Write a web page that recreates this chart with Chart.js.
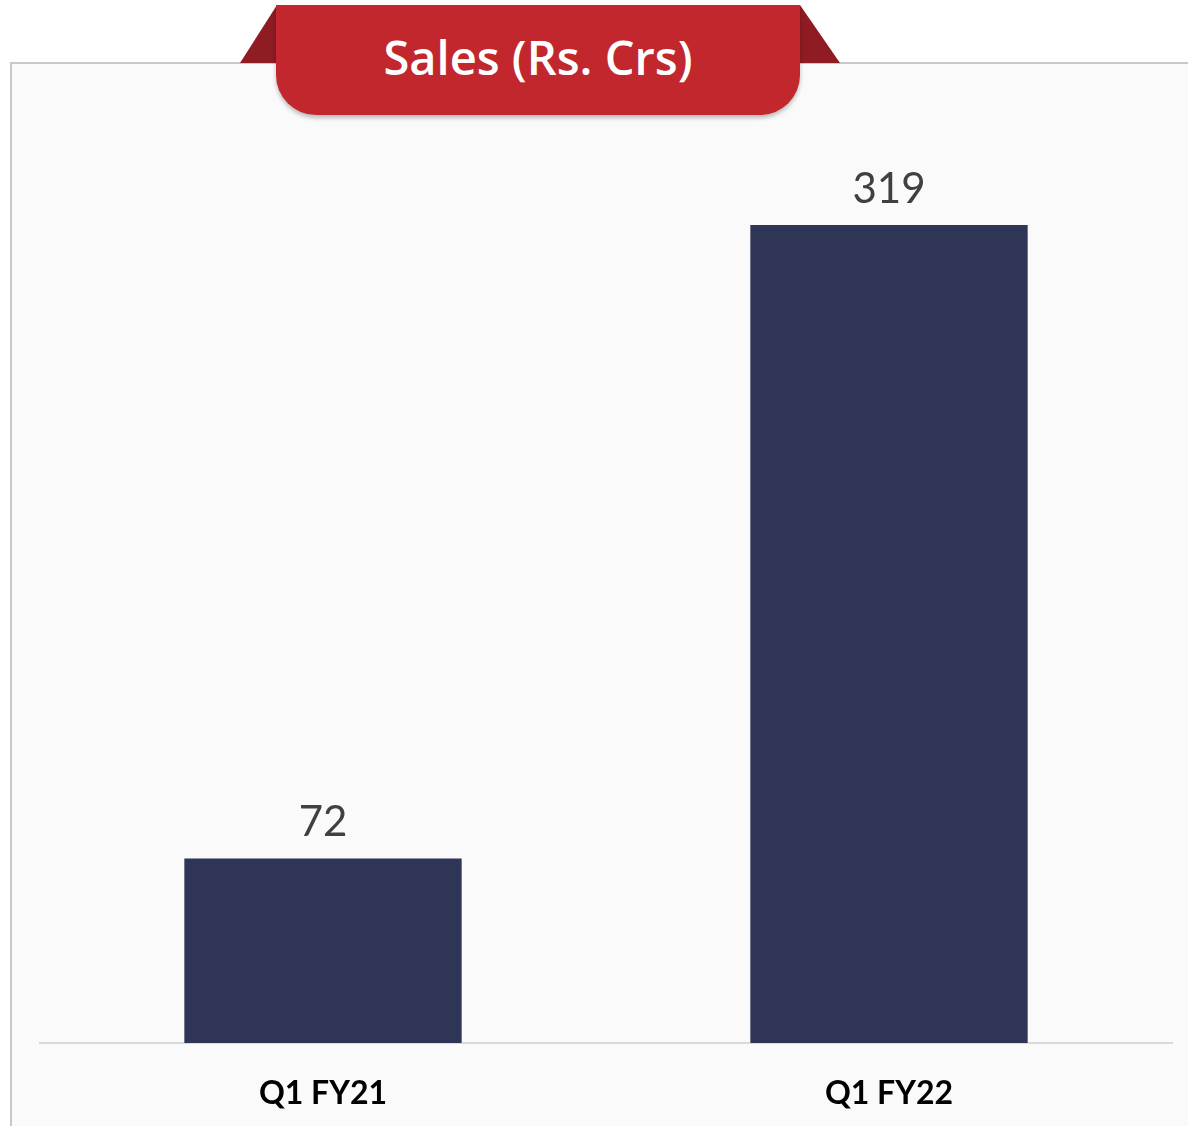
<!DOCTYPE html>
<html>
<head>
<meta charset="utf-8">
<script src="https://cdn.jsdelivr.net/npm/chart.js@4"></script>
<style>
  html, body { margin: 0; padding: 0; background: #ffffff; }
  #wrap { position: relative; width: 1188px; height: 1126px; overflow: hidden; }
  #panel { position: absolute; left: 10px; top: 62px; width: 1200px; height: 1100px;
           background: #fafafa; border-left: 2px solid #c8c8c8; border-top: 2px solid #c8c8c8; }
  #triL { position: absolute; left: 240px; top: 5px; width: 0; height: 0;
          border-right: 37px solid #8e1c22; border-top: 58px solid transparent; }
  #triR { position: absolute; left: 800px; top: 5px; width: 0; height: 0;
          border-left: 40px solid #8e1c22; border-top: 58px solid transparent; }
  #banner { position: absolute; left: 276px; top: 5px; width: 524px; height: 110px;
            background: #c1272d; border-radius: 0 0 40px 40px;
            box-shadow: 0 3px 4px rgba(0,0,0,0.25);
            color: #ffffff; font-family: "Open Sans", sans-serif; font-weight: 600; font-size: 47px;
            text-align: center; line-height: 104px; }
  #c { position: absolute; left: 0; top: 0; }
</style>
</head>
<body>
<div id="wrap">
  <div id="panel"></div>
  <div id="triL"></div>
  <div id="triR"></div>
  <div id="banner">Sales (Rs. Crs)</div>
  <canvas id="c" width="1188" height="1126"></canvas>
</div>
<script>
const categories = ["Q1 FY21", "Q1 FY22"];
const salesValues = [72, 319];

const valueLabels = {
  id: 'valueLabels',
  afterDatasetsDraw(chart) {
    const ctx = chart.ctx;
    const meta = chart.getDatasetMeta(0);
    ctx.save();
    ctx.fillStyle = '#404040';
    ctx.font = '42px Lato, sans-serif';
    ctx.textAlign = 'center';
    ctx.textBaseline = 'middle';
    meta.data.forEach((bar, i) => {
      ctx.fillText(String(chart.data.datasets[0].data[i]), bar.x, bar.y - 36);
    });
    ctx.restore();
  }
};

new Chart(document.getElementById('c'), {
  type: 'bar',
  data: {
    labels: categories,
    datasets: [{
      data: salesValues,
      backgroundColor: '#2f3557',
      barPercentage: 0.49,
      categoryPercentage: 1.0
    }]
  },
  options: {
    responsive: false,
    animation: false,
    layout: { padding: { left: 40, right: 16, top: 120, bottom: 13 } },
    plugins: { legend: { display: false }, tooltip: { enabled: false }, title: { display: false } },
    scales: {
      x: {
        grid: { display: false, drawTicks: false },
        border: { display: true, color: '#d9d9d9', width: 2 },
        ticks: { color: '#000000', padding: 31, font: { family: 'Lato', weight: 'bold', size: 32 } },
        afterFit(scale) { scale.height = 70; }
      },
      y: {
        display: false,
        min: 0,
        max: 360
      }
    }
  },
  plugins: [valueLabels]
});
</script>
</body>
</html>
